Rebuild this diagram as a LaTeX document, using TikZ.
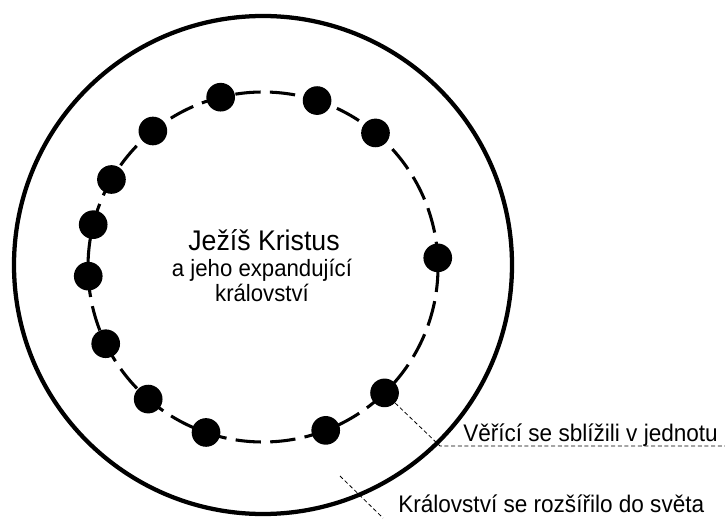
\documentclass[tikz,border=0pt]{standalone}
\usepackage{fontspec}
\setmainfont[FakeStretch=0.94]{Liberation Sans}
\usetikzlibrary{calc}

\begin{document}
\begin{tikzpicture}[
    x=0.75pt, y=0.75pt,
    world/.style={line width=3.2pt},
    church/.style={line width=2.3pt, dash pattern=on 19pt off 7pt},
    bead/.style={circle, fill=black, inner sep=0pt, minimum size=21.5pt},
    leader/.style={line width=0.6pt, dash pattern=on 3pt off 2pt},
    headline/.style={anchor=base, inner sep=0pt, font=\fontsize{21.3}{24}\selectfont},
    subline/.style={anchor=base, inner sep=0pt, font=\fontsize{17.7}{20}\selectfont},
    note/.style={anchor=base west, inner sep=0pt, font=\fontsize{18}{20}\selectfont}
]
\useasboundingbox (0,0) rectangle (725,518);
\coordinate (ctr) at (263,251);

% the world and the gathered believers
\draw[world] (263,253) circle[radius=249];
\draw[church] (ctr) circle[radius=175];
\foreach \a [count=\i] in {3,50,72,104,129,150,166,183,206,229,251,291,314}
    \node[bead] (b\i) at ($(ctr)+(\a:175)$) {};

\node[headline] (jesus) at (264,267) {Ježíš Kristus};
\node[subline] (expand) at (262,241) {a jeho expandující};
\node[subline] (kingdom) at (262,216) {království};

\node[note] (unity) at (463,76) {Věřící se sblížili v jednotu};
\node[note] (spread) at (398,6) {Království se rozšířilo do světa};

\coordinate (u1) at (440,72);
\coordinate (u2) at (725,72);
\draw[leader] (b13) -- (u1) -- (u2);
\coordinate (k1) at (340,42);
\coordinate (k2) at (383,0);
\draw[leader] (k1) -- (k2);
\end{tikzpicture}
\end{document}
